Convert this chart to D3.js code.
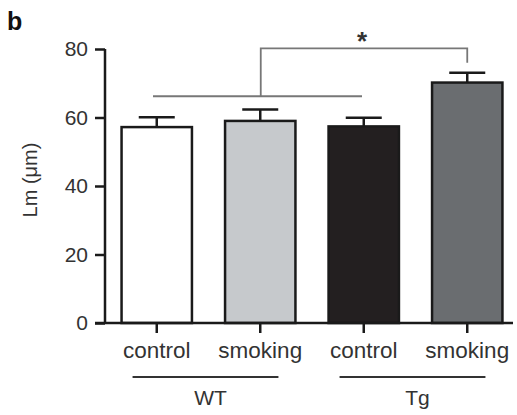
<!DOCTYPE html>
<html><head><meta charset="utf-8">
<script src="https://cdn.jsdelivr.net/npm/d3@7"></script>
<style>body{margin:0;background:#fff}svg{display:block}text{font-family:"Liberation Sans",Arial,sans-serif}</style>
</head><body><svg width="517" height="415"></svg>
<script>
const categories = ["control", "smoking", "control", "smoking"];
const groups = ["WT", "WT", "Tg", "Tg"];
const groupLabels = ["WT", "Tg"];
const means = [57.2, 59.0, 57.4, 70.2];
const errors = [2.9, 3.3, 2.5, 2.9];
const fills = ["#ffffff", "#c6c9cc", "#231f20", "#6a6d70"];
const yTicks = [0, 20, 40, 60, 80];

const svg = d3.select("svg");
const x = d3.scaleBand().domain(d3.range(categories.length)).range([105, 519]).paddingInner(0.32).paddingOuter(0.16);
const y = d3.scaleLinear().domain([0, 80]).range([323, 49]);
const txt = "#333";

// bars
svg.selectAll("rect.bar").data(means).join("rect")
  .attr("x", (d, i) => x(i)).attr("width", x.bandwidth())
  .attr("y", d => y(d)).attr("height", d => y(0) - y(d))
  .attr("fill", (d, i) => fills[i]).attr("stroke", "#1a1a1a").attr("stroke-width", 2.5);

// error bars
const eb = svg.append("g").attr("stroke", "#1a1a1a").attr("stroke-width", 2.5);
means.forEach((m, i) => {
  const cx = x(i) + x.bandwidth() / 2;
  eb.append("line").attr("x1", cx).attr("x2", cx).attr("y1", y(m)).attr("y2", y(m + errors[i]));
  eb.append("line").attr("x1", cx - 18).attr("x2", cx + 18).attr("y1", y(m + errors[i])).attr("y2", y(m + errors[i]));
});

// y axis
const ya = svg.append("g").attr("transform", "translate(105,0)")
  .call(d3.axisLeft(y).tickValues(yTicks).tickSize(10).tickPadding(7));
ya.select(".domain").attr("stroke", "#1a1a1a").attr("stroke-width", 2.5).attr("d", `M0,${y(80)}V${y(0)}`);
ya.selectAll(".tick line").attr("stroke", "#1a1a1a").attr("stroke-width", 2.5);
ya.selectAll(".tick text").attr("font-size", 21).attr("fill", txt).attr("font-family", "Liberation Sans, Arial");

// x axis
const xa = svg.append("g").attr("transform", `translate(0,${y(0)})`)
  .call(d3.axisBottom(x).tickFormat(i => categories[i]).tickSize(10).tickPadding(9));
xa.select(".domain").attr("stroke", "#1a1a1a").attr("stroke-width", 2.5).attr("d", "M95,0H513");
xa.selectAll(".tick line").attr("stroke", "#1a1a1a").attr("stroke-width", 2.5);
xa.selectAll(".tick text").attr("font-size", 22.5).attr("fill", txt).attr("font-family", "Liberation Sans, Arial");

// group lines
groupLabels.forEach(g => {
  const idx = d3.range(groups.length).filter(i => groups[i] === g);
  const x0 = x(idx[0]) + 11, x1 = x(idx[idx.length - 1]) + x.bandwidth() - 17;
  svg.append("line").attr("x1", x0).attr("x2", x1).attr("y1", 377).attr("y2", 377)
    .attr("stroke", "#333").attr("stroke-width", 2);
  svg.append("text").attr("x", (x0 + x1) / 2 + 5).attr("y", 405).attr("text-anchor", "middle")
    .attr("font-size", 21).attr("fill", txt).text(g);
});

// y label
svg.append("text").attr("transform", `translate(37,180) rotate(-90)`).attr("text-anchor", "middle")
  .attr("font-size", 20).attr("fill", txt).text("Lm (μm)");

// significance bracket
const cx = i => x(i) + x.bandwidth() / 2;
const br = svg.append("g").attr("stroke", "#777").attr("stroke-width", 1.8).attr("fill", "none");
br.append("line").attr("x1", 153).attr("x2", 362).attr("y1", y(66.2)).attr("y2", y(66.2));
br.append("path").attr("d", `M${(cx(0) + cx(2)) / 2 + 0.5},${y(66.2)}V${y(80.2)}H${cx(3)}V${y(76)}`);
svg.append("text").attr("x", 362).attr("y", 50).attr("text-anchor", "middle")
  .attr("font-size", 26).attr("font-weight", "bold").attr("fill", "#333").text("*");

// panel letter
svg.append("text").attr("x", 7).attr("y", 30).attr("font-size", 25).attr("font-weight", "bold").attr("fill", "#111").text("b");
</script></body></html>
